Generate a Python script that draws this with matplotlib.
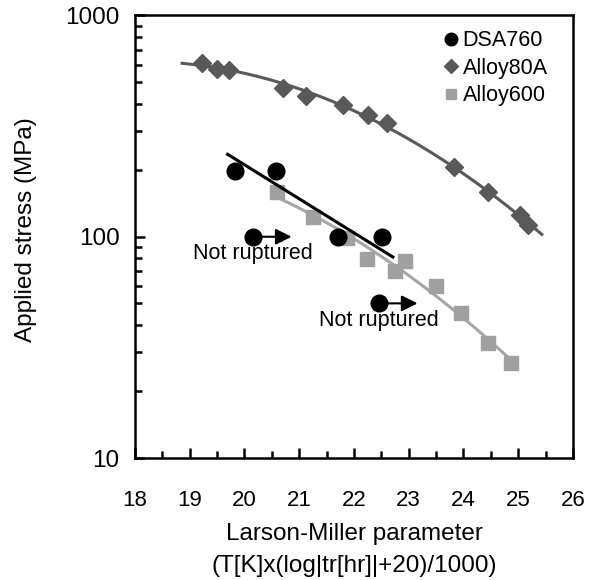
import matplotlib.pyplot as plt
import numpy as np

plt.rcParams['font.family'] = ['Liberation Sans', 'DejaVu Sans']

# DSA760 (ruptured)
dsa_x = [19.83, 20.58, 21.71, 22.51]
dsa_y = [198, 198, 100, 100]
# DSA760 (not ruptured)
dsa_nr_x = [20.16, 22.46]
dsa_nr_y = [100, 50]
# DSA760 trend line
dsa_fit_x = [19.69, 22.71]
dsa_fit_y = [236, 81]

a80_x = [19.22, 19.50, 19.72, 20.71, 21.13, 21.80, 22.26, 22.60, 23.82, 24.45, 25.04, 25.17]
a80_y = [612, 575, 570, 472, 434, 395, 354, 325, 207, 159, 126, 113]
a80_range = [18.86, 25.43]

a600_x = [20.60, 21.25, 21.88, 22.23, 22.74, 22.94, 23.50, 23.95, 24.45, 24.86]
a600_y = [159, 123, 99, 79, 70, 77.5, 60, 45, 33, 27]
a600_range = [20.60, 24.86]

fig = plt.figure(figsize=(5.89, 5.80), dpi=100)
ax = fig.add_axes([0.2292, 0.2103, 0.7436, 0.763])

# trend lines
c80 = np.polyfit(a80_x, np.log10(a80_y), 2)
xx = np.linspace(a80_range[0], a80_range[1], 200)
ax.plot(xx, 10 ** np.polyval(c80, xx), color='#595959', lw=2.2, zorder=2)

c600 = np.polyfit(a600_x, np.log10(a600_y), 2)
xx = np.linspace(a600_range[0], a600_range[1], 200)
ax.plot(xx, 10 ** np.polyval(c600, xx), color='#A6A6A6', lw=2.2, zorder=2)

ax.plot(dsa_fit_x, dsa_fit_y, color='black', lw=2.2, zorder=4)

ax.plot(a80_x, a80_y, 'D', color='#595959', ms=9, ls='none', label='Alloy80A', zorder=3)
ax.plot(a600_x, a600_y, 's', color='#A0A0A0', ms=10, ls='none', label='Alloy600', zorder=3)
ax.plot(dsa_x + dsa_nr_x, dsa_y + dsa_nr_y, 'o', color='black', ms=12, ls='none',
        label='DSA760', zorder=5)

# "Not ruptured" arrows
for x, y in zip(dsa_nr_x, dsa_nr_y):
    ax.annotate('', xy=(x + 0.7, y), xytext=(x, y),
                arrowprops=dict(arrowstyle='-|>', color='black', lw=1.5,
                                mutation_scale=24, shrinkA=0, shrinkB=0), zorder=6)
    ax.text(x + 0.0, y * 0.84, 'Not ruptured', fontsize=15.5, ha='center', va='center')

ax.set_yscale('log')
ax.set_xlim(18, 26)
ax.set_ylim(10, 1000)
ax.set_xticks(np.arange(18, 27, 1))
ax.set_xticks(np.arange(18.5, 26, 1), minor=True)
ax.set_yticks([10, 100, 1000])
ax.set_yticklabels(['10', '100', '1000'])
ax.yaxis.set_minor_formatter(plt.NullFormatter())

ax.tick_params(which='both', direction='in', width=1.8, top=False, right=False)
ax.tick_params(axis='x', labelsize=16)
ax.tick_params(axis='y', labelsize=17.5)
ax.tick_params(which='major', length=7.2)
ax.tick_params(which='minor', length=4.8)
ax.tick_params(axis='x', which='major', pad=23)
ax.tick_params(axis='y', which='major', pad=11)
for s in ax.spines.values():
    s.set_linewidth(1.8)

ax.set_xlabel('Larson-Miller parameter\n(T[K]x(log|tr[hr]|+20)/1000)', fontsize=17.5, labelpad=9,
              linespacing=1.55)
ax.set_ylabel('Applied stress (MPa)', fontsize=17.5)
ax.yaxis.set_label_coords(-0.223, 0.517)

handles, labels = ax.get_legend_handles_labels()
order = [2, 0, 1]
leg = ax.legend([handles[i] for i in order], [labels[i] for i in order], loc='upper right',
                bbox_to_anchor=(0.962, 0.986), frameon=False, fontsize=15.5,
                handletextpad=0.05, labelspacing=0.3, markerscale=0.75, handlelength=1.0,
                borderaxespad=0)

fig.savefig('out.png', dpi=100)
